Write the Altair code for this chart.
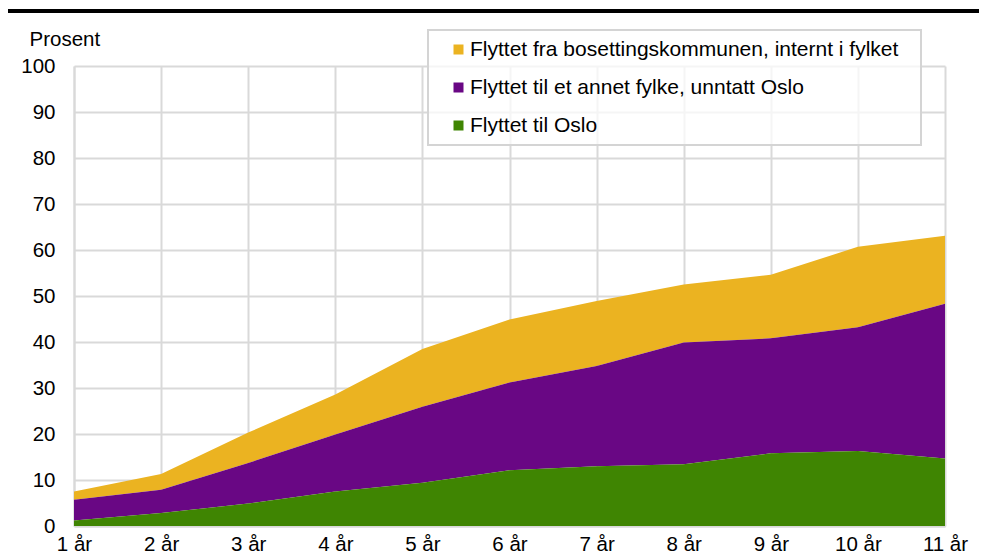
import altair as alt
import pandas as pd

years = [1, 2, 3, 4, 5, 6, 7, 8, 9, 10, 11]
series_names = [
    "Flyttet fra bosettingskommunen, internt i fylket",
    "Flyttet til et annet fylke, unntatt Oslo",
    "Flyttet til Oslo",
]
colors = ["#EBB321", "#690784", "#3F8502"]

oslo = [1.2, 2.8, 4.9, 7.5, 9.4, 12.1, 13.0, 13.4, 15.8, 16.3, 14.7]
annet_fylke = [4.5, 5.1, 8.8, 12.4, 16.5, 19.1, 21.8, 26.5, 25.0, 26.9, 33.6]
internt = [1.8, 3.4, 6.6, 8.7, 12.6, 13.7, 14.1, 12.6, 13.8, 17.5, 14.8]

stack_order = {series_names[2]: 0, series_names[1]: 1, series_names[0]: 2}
rows = []
for name, vals in zip(series_names, [internt, annet_fylke, oslo]):
    for yr, v in zip(years, vals):
        rows.append({"aar": yr, "verdi": v, "serie": name, "ord": stack_order[name]})
df = pd.DataFrame(rows)

FONT = "Liberation Sans"
GRID = "#d9d9d9"

area = alt.Chart(df).mark_area(interpolate="linear").encode(
    x=alt.X(
        "aar:Q",
        scale=alt.Scale(domain=[1, 11], nice=False, zero=False),
        axis=alt.Axis(
            values=years,
            labelExpr="datum.value + ' år'",
            title=None,
            ticks=False,
            labelFlush=False,
            labelPadding=8,
            labelFontSize=20.5,
        ),
    ),
    y=alt.Y(
        "verdi:Q",
        stack=True,
        scale=alt.Scale(domain=[0, 100], nice=False),
        axis=alt.Axis(
            values=list(range(0, 101, 10)),
            title="Prosent",
            titleAngle=0,
            titleAlign="left",
            titleBaseline="alphabetic",
            titleX=-45,
            titleY=-21,
            titleFontSize=20.5,
            titleFontWeight="normal",
            ticks=False,
            labelPadding=19,
            labelFontSize=20.5,
        ),
    ),
    color=alt.Color(
        "serie:N",
        scale=alt.Scale(domain=series_names, range=colors),
        legend=alt.Legend(
            title="\u00a0",
            titleOrient="right",
            titleFontSize=1,
            titlePadding=14,
            orient="none",
            legendX=354,
            legendY=-36,
            symbolType="square",
            symbolSize=100,
            symbolStrokeWidth=0,
            symbolOffset=11,
            labelOffset=1,
            labelFontSize=21,
            labelLimit=0,
            labelColor="#000000",
            rowPadding=16,
            padding=9,
            fillColor="rgba(255,255,255,0.72)",
            strokeColor="#d4d4d4",
        ),
    ),
    order=alt.Order("ord:Q", sort="ascending"),
)

topline = alt.Chart(pd.DataFrame({"k": [0]})).mark_rule(
    color="#000000", strokeWidth=4
).encode(x=alt.value(-69), x2=alt.value(905), y=alt.value(-55))

chart = (
    alt.layer(area, topline)
    .properties(
        width=871,
        height=460,
        autosize=alt.AutoSizeParams(type="none"),
        padding={"left": 66, "top": 58, "right": 34, "bottom": 30},
    )
    .configure(font=FONT)
    .configure_view(stroke=None)
    .configure_axis(
        domainColor=GRID,
        domainWidth=2,
        gridColor=GRID,
        gridWidth=2,
        labelColor="#000000",
        titleColor="#000000",
        labelFont=FONT,
        titleFont=FONT,
    )
    .configure_legend(labelFont=FONT, strokeWidth=2)
)

chart.save("out.html", embed_options={"renderer": "svg", "actions": False})
